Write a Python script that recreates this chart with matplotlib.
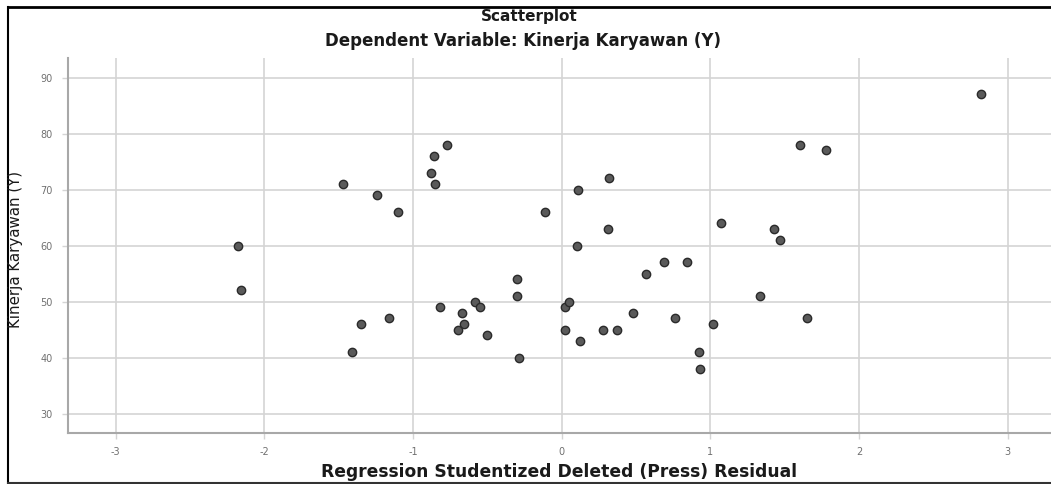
import matplotlib
matplotlib.use("Agg")
import matplotlib.pyplot as plt

# Data
residual = [-2.18, -2.16, -1.47, -1.24, -1.10, -0.86, -0.88, -0.85, -0.77,
            -1.41, -1.35, -1.16, -0.82, -0.58, -0.55, -0.67, -0.66, -0.70, -0.50,
            -0.30, -0.30, -0.29, -0.11, 0.11, 0.32, 0.31, 0.10,
            0.02, 0.05, 0.02, 0.12, 0.28, 0.37, 0.48, 0.57,
            0.69, 0.84, 0.76, 0.92, 0.93, 1.02, 1.07, 1.43, 1.47,
            1.33, 1.65, 1.60, 1.78, 2.82]
kinerja = [60, 52, 71, 69, 66, 76, 73, 71, 78,
           41, 46, 47, 49, 50, 49, 48, 46, 45, 44,
           54, 51, 40, 66, 70, 72, 63, 60,
           49, 50, 45, 43, 45, 45, 48, 55,
           57, 57, 47, 41, 38, 46, 64, 63, 61,
           51, 47, 78, 77, 87]

x_ticks = [-3, -2, -1, 0, 1, 2, 3]
y_ticks = [30, 40, 50, 60, 70, 80, 90]

title = "Scatterplot"
subtitle = "Dependent Variable: Kinerja Karyawan (Y)"
x_label = "Regression Studentized Deleted (Press) Residual"
y_label = "Kinerja Karyawan (Y)"

plt.rcParams['font.family'] = ['DejaVu Sans']
plt.rcParams['axes.unicode_minus'] = False

W, H = 1051, 484
fig = plt.figure(figsize=(W / 100, H / 100), dpi=100)

left_px, right_px, top_px, bottom_px = 68, 1051, 58, 433
ax = fig.add_axes([left_px / W, 1 - bottom_px / H,
                   (right_px - left_px) / W, (bottom_px - top_px) / H])

ax.set_xlim(-3.32, 3.29)
ax.set_ylim(26.55, 93.5)

ax.set_xticks(x_ticks)
ax.set_yticks(y_ticks)
ax.grid(True, color='#d4d4d4', linewidth=1.2)
ax.set_axisbelow(True)

for side in ['top', 'right']:
    ax.spines[side].set_visible(False)
for side in ['left', 'bottom']:
    ax.spines[side].set_color('#a8a8a8')
    ax.spines[side].set_linewidth(1.5)

ax.tick_params(axis='both', colors='#d4d4d4', length=4, width=1,
               labelsize=7, labelcolor='#707070')
ax.tick_params(axis='y', pad=7)
ax.tick_params(axis='x', pad=6)

ax.scatter(residual, kinerja, s=36, facecolor='#5a5a5a', edgecolor='#2a2a2a',
           linewidth=1.0, zorder=3)

fig.text(559 / W, 1 - 472 / H, x_label, ha='center', va='center',
         fontsize=12.3, fontweight='bold', color='#1a1a1a')
fig.text(16 / W, 1 - 249 / H, y_label, ha='center', va='center',
         rotation=90, fontsize=10.8, color='#1a1a1a')

fig.text(529 / W, 1 - 17 / H, title, ha='center', va='center',
         fontsize=11, fontweight='bold', color='#1a1a1a')
fig.text(523 / W, 1 - 41 / H, subtitle, ha='center', va='center',
         fontsize=12, fontweight='bold', color='#1a1a1a')

# frame around the image
fig.add_artist(plt.Line2D([8 / W, 1.0], [1 - 7 / H, 1 - 7 / H],
                          transform=fig.transFigure, color='black', linewidth=2))
fig.add_artist(plt.Line2D([8 / W, 8 / W], [1 - 7 / H, 1 - 483 / H],
                          transform=fig.transFigure, color='black', linewidth=1.5))
fig.add_artist(plt.Line2D([8 / W, 1.0], [1 - 483 / H, 1 - 483 / H],
                          transform=fig.transFigure, color='#333333', linewidth=1.5))

fig.savefig("out.png", dpi=100)
